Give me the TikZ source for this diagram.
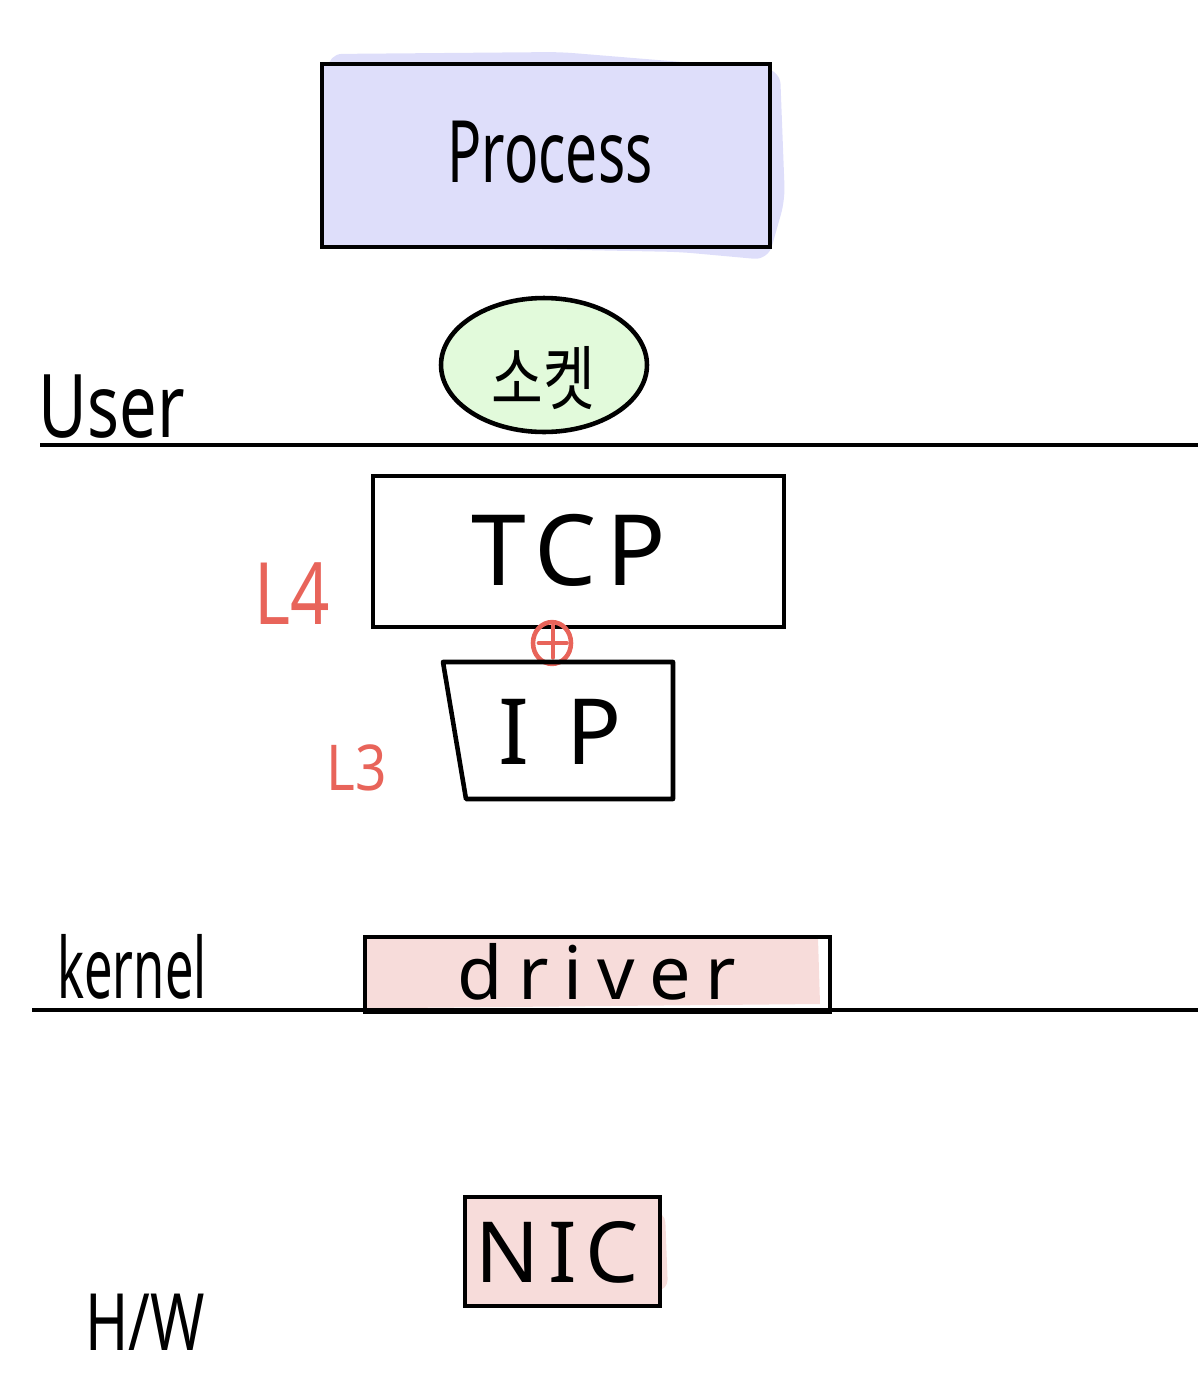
\documentclass[tikz,border=0pt]{standalone}
\usepackage{fontspec}
\setmainfont{Noto Sans}
\newfontfamily\kr{Noto Sans CJK KR}
\usetikzlibrary{shapes.geometric}
\definecolor{lav}{HTML}{DEDEFA}
\definecolor{mint}{HTML}{E2FADB}
\definecolor{rose}{HTML}{F7DCDA}
\definecolor{pen}{HTML}{E8645A}
\tikzset{
  box/.style={draw=black, line width=2.6pt, inner sep=0pt},
  lbl/.style={inner sep=0pt, text=black},
  redlbl/.style={inner sep=0pt, text=pen},
  rule/.style={draw=black, line width=2.6pt},
}
\newcommand{\fs}[1]{\fontsize{#1}{#1}\selectfont}
\begin{document}
\begin{tikzpicture}[x=0.02cm, y=-0.02cm]
\useasboundingbox (0,0) rectangle (1198,1390);
% hand-painted fills spilling a little
\fill[lav, rounded corners=8pt] (328,54) -- (560,52) -- (780,70) -- (785,200) -- (768,260) -- (680,252) -- (330,245) -- cycle;
\fill[rose] (366,938) -- (818,938) -- (820,1004) -- (400,1008) -- (366,1010) -- cycle;
\fill[rose, rounded corners=6pt] (470,1203) -- (665,1212) -- (668,1290) -- (470,1300) -- cycle;
% boxes
\node[box, fill=lav, minimum width=8.96cm, minimum height=3.66cm] (proc) at (546,155.5) {};
\node[lbl, xscale=0.66] (proct) at (550,152) {\fs{49pt}Process};
\node[box, ellipse, fill=mint, minimum width=4.12cm, minimum height=2.68cm] (sock) at (544,365) {};
\node[lbl, xscale=0.8] (sockt) at (543,378) {\kr\fs{40pt}소켓};
\node[lbl, xscale=0.76] (user) at (112,407) {\fs{50pt}User};
\coordinate (u1) at (40,445);
\coordinate (u2) at (1198,445);
\draw[rule] (u1) -- (u2);
\node[box, minimum width=8.22cm, minimum height=3.02cm] (tcp) at (578.5,551.5) {};
\node[lbl] (tcpt) at (569,550) {\fs{56pt}\addfontfeature{LetterSpace=10}TCP};
\node[redlbl, xscale=0.8] (l4) at (292,594) {\fs{49pt}L4};
\node[draw=pen, line width=2.6pt, circle, minimum size=0.76cm, inner sep=0pt, yscale=1.1] (plus) at (552,643) {};
\draw[pen, line width=2.4pt, line cap=round] (plus.west) ++(8,0) -- ++(28,0);
\draw[pen, line width=2.4pt, line cap=round] (plus.north) ++(1,6) -- ++(0,32);
\coordinate (ip1) at (443,662);
\coordinate (ip2) at (673,662);
\coordinate (ip3) at (673,799);
\coordinate (ip4) at (466,799);
\draw[box, line join=round] (ip1) -- (ip2) -- (ip3) -- (ip4) -- cycle;
\node[lbl] (ipt) at (560,732) {\fs{52pt}\addfontfeature{LetterSpace=40}IP};
\node[redlbl, xscale=0.87] (l3) at (357,768) {\fs{36pt}L3};
\node[lbl, xscale=0.6] (kern) at (132,967) {\fs{48pt}kernel};
\coordinate (k1) at (32,1010);
\coordinate (k2) at (1198,1010);
\draw[rule] (k1) -- (k2);
\node[box, minimum width=9.3cm, minimum height=1.5cm] (drv) at (597.5,974.5) {};
\node[lbl] (drvt) at (597,972) {\fs{42pt}\addfontfeature{LetterSpace=20}driver};
\node[box, fill=rose, minimum width=3.9cm, minimum height=2.18cm] (nic) at (562.5,1251.5) {};
\node[lbl] (nict) at (557,1252) {\fs{48pt}\addfontfeature{LetterSpace=10}NIC};
\node[lbl, xscale=0.74] (hw) at (145,1322) {\fs{45pt}H/W};
\end{tikzpicture}
\end{document}
